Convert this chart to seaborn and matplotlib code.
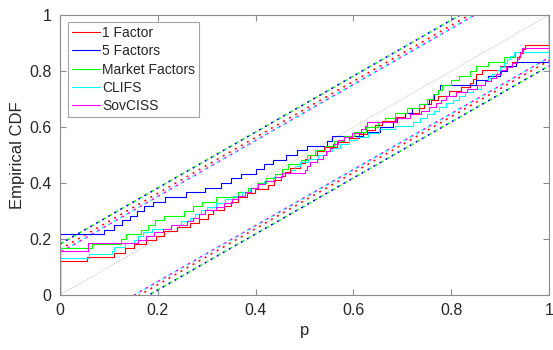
import numpy as np
import pandas as pd
import matplotlib
matplotlib.use("Agg")
import matplotlib.pyplot as plt
import seaborn as sns

# Model names and their line colours
labels = ["1 Factor", "5 Factors", "Market Factors", "CLIFS", "SovCISS"]
colors = ["#ff0000", "#0000ff", "#00ff00", "#00ffff", "#ff00ff"]

# Half-width of the 95% Kolmogorov-Smirnov band for each model
ks_band = [0.163, 0.182, 0.182, 0.152, 0.152]

# p-values of each specification (sorted)
p_one_factor = [0.0] * 8 + [
    0.055, 0.11, 0.132, 0.152, 0.175, 0.196, 0.213, 0.24, 0.265, 0.285,
    0.302, 0.313, 0.335, 0.35, 0.365, 0.383, 0.398, 0.425, 0.438, 0.452,
    0.46, 0.47, 0.491, 0.5, 0.511, 0.526, 0.54, 0.566, 0.59, 0.612,
    0.628, 0.644, 0.658, 0.685, 0.705, 0.735, 0.745, 0.758, 0.774, 0.795,
    0.82, 0.838, 0.845, 0.851, 0.862, 0.9, 0.925, 0.935, 0.941, 0.947,
    0.951] + [1.0] * 7

p_five_factors = [0.0] * 13 + [
    0.09, 0.11, 0.127, 0.143, 0.158, 0.172, 0.19, 0.215, 0.258, 0.296,
    0.33, 0.35, 0.37, 0.40, 0.417, 0.435, 0.462, 0.485, 0.505, 0.545,
    0.557, 0.62, 0.655, 0.68, 0.69, 0.705, 0.72, 0.735, 0.755, 0.765,
    0.772, 0.778, 0.85, 0.875, 0.90, 0.915, 0.932] + [1.0] * 10

p_market = [0.0] * 10 + [
    0.065, 0.125, 0.134, 0.166, 0.18, 0.195, 0.212, 0.253, 0.272, 0.29,
    0.32, 0.363, 0.384, 0.403, 0.422, 0.44, 0.454, 0.466, 0.492, 0.506,
    0.522, 0.542, 0.56, 0.58, 0.602, 0.625, 0.65, 0.665, 0.686, 0.71,
    0.735, 0.75, 0.762, 0.772, 0.782, 0.80, 0.815, 0.838, 0.85, 0.875,
    0.908, 0.93] + [1.0] * 8

p_clifs = [0.0] * 10 + [
    0.06, 0.107, 0.11, 0.132, 0.152, 0.16, 0.17, 0.188, 0.228, 0.247,
    0.265, 0.277, 0.289, 0.301, 0.319, 0.337, 0.354, 0.373, 0.389, 0.403,
    0.418, 0.436, 0.455, 0.472, 0.48, 0.49, 0.508, 0.528, 0.545, 0.556,
    0.572, 0.59, 0.608, 0.63, 0.652, 0.685, 0.722, 0.737, 0.751, 0.764,
    0.776, 0.79, 0.803, 0.816, 0.829, 0.844, 0.86, 0.87, 0.875, 0.884,
    0.893, 0.90, 0.908, 0.915, 0.921, 0.928] + [1.0] * 10

p_sovciss = [0.0] * 12 + [
    0.058, 0.058, 0.16, 0.175, 0.192, 0.21, 0.228, 0.26, 0.273, 0.285,
    0.296, 0.318, 0.335, 0.351, 0.365, 0.378, 0.39, 0.404, 0.42, 0.44,
    0.453, 0.50, 0.506, 0.511, 0.525, 0.538, 0.544, 0.552, 0.558, 0.568,
    0.58, 0.597, 0.615, 0.624, 0.627, 0.688, 0.716, 0.739, 0.755, 0.768,
    0.78, 0.79, 0.81, 0.832, 0.852, 0.87, 0.882, 0.892, 0.902, 0.913,
    0.925, 0.935, 0.938, 0.941, 0.944] + [1.0] * 9

samples = [p_one_factor, p_five_factors, p_market, p_clifs, p_sovciss]

sns.set_style("ticks")
plt.rcParams["font.family"] = ["Liberation Sans", "DejaVu Sans"]
plt.rcParams["font.size"] = 10

fig, ax = plt.subplots(figsize=(5.53, 3.5), dpi=100)
fig.subplots_adjust(left=60 / 553, right=549 / 553, top=1 - 15 / 350, bottom=1 - 295 / 350)

# 45-degree reference line
ref = pd.DataFrame({"p": [0.0, 1.0], "F": [0.0, 1.0]})
ax.plot(ref["p"], ref["F"], color="#b0b0b0", lw=0.6, ls=(0, (1, 1.5)), zorder=1)

# Confidence bands around the diagonal, one pair per model.
# Coinciding bands use shifted dash phases so both colours stay visible.
grid = np.array([0.0, 1.0])
dash_on, dash_off = 1.25, 3.1
phases = [0.0, 0.0, dash_off, 0.0, dash_off]
for d, col, ph in zip(ks_band, colors, phases):
    for sgn in (1, -1):
        ax.plot(grid, grid + sgn * d, color=col, lw=1.15,
                ls=(ph, (dash_on, dash_off)), zorder=1.5)

# Empirical CDFs
data = pd.DataFrame({
    "p": np.concatenate([np.asarray(v, dtype=float) for v in samples]),
    "model": np.concatenate([[lab] * len(v) for lab, v in zip(labels, samples)]),
})
for lab, col in zip(labels, colors):
    sns.ecdfplot(data=data[data["model"] == lab], x="p", color=col,
                 lw=0.8, ax=ax, label=lab, zorder=2)

ax.set_xlim(0, 1)
ax.set_ylim(0, 1)
ticks = [0, 0.2, 0.4, 0.6, 0.8, 1]
ax.set_xticks(ticks)
ax.set_yticks(ticks)
ax.set_xticklabels([f"{t:g}" for t in ticks])
ax.set_yticklabels([f"{t:g}" for t in ticks])
ax.tick_params(direction="in", top=True, right=True, length=4, width=0.8,
               color="#8c8c8c", labelcolor="#262626", labelsize=11.5, pad=6)
for sp in ax.spines.values():
    sp.set_visible(True)
    sp.set_color("#8c8c8c")
    sp.set_linewidth(0.8)
ax.set_xlabel("p", fontsize=12, color="#262626", labelpad=3)
ax.set_ylabel("Empirical CDF", fontsize=12, color="#262626", labelpad=3)

leg = ax.legend(loc="upper left", bbox_to_anchor=(0.016, 0.975), borderaxespad=0,
                fontsize=10, frameon=True, fancybox=False, handlelength=2.0,
                handletextpad=0.15, labelspacing=0.3, borderpad=0.3)
leg.get_frame().set_edgecolor("#8c8c8c")
leg.get_frame().set_linewidth(0.8)
for t in leg.get_texts():
    t.set_color("#262626")

fig.savefig("out.png", dpi=100)
